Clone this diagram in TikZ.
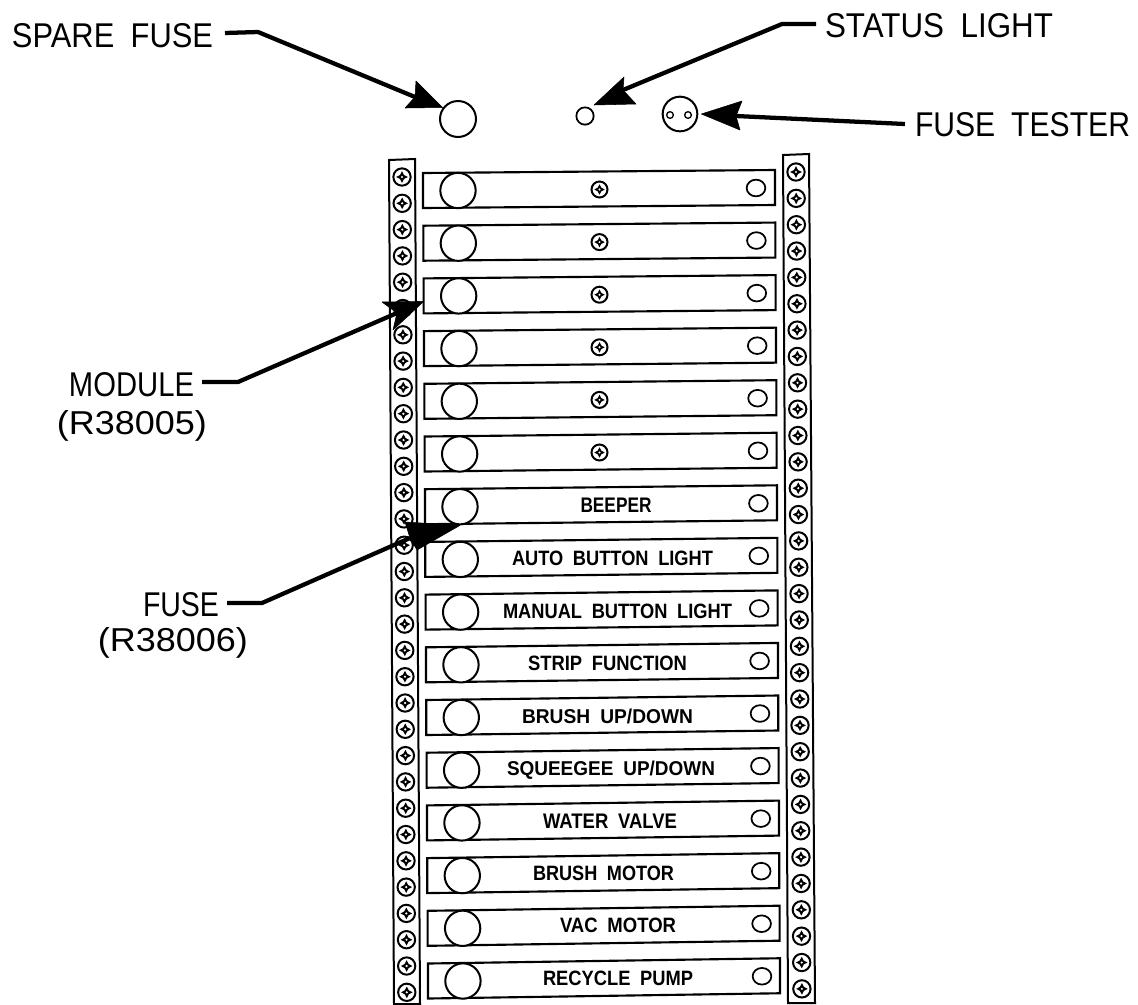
\documentclass[tikz,border=0pt]{standalone}
\usetikzlibrary{shapes.geometric}
\usepackage{graphicx}
\usepackage{fontspec}
\setmainfont[WordSpace=1.9]{Liberation Sans}
\newlength\pxu \setlength\pxu{0.75pt}
\newcommand\bigtxt[3]{\resizebox{#1\pxu}{#2\pxu}{\fontsize{30}{30}\selectfont #3}}
\newcommand\smalltxt[2]{\resizebox{#1\pxu}{14.5\pxu}{\fontsize{14}{14}\selectfont\bfseries #2}}
\tikzset{
  strip/.style={line width=1.5pt, draw=black, fill=white},
  modbox/.style={line width=1.6pt, draw=black, fill=white},
  fusec/.style={circle, draw=black, line width=1.5pt, fill=white, minimum size=26.5pt, inner sep=0pt},
  lampc/.style={ellipse, draw=black, line width=1.3pt, fill=white, minimum width=14pt, minimum height=12.5pt, inner sep=0pt},
  screwc/.style={circle, draw=black, line width=1.5pt, fill=white, minimum size=13pt, inner sep=0pt},
  lab/.style={anchor=base, inner sep=0pt, outer sep=0pt},
  leader/.style={line width=3.2pt, black, line join=round},
  head/.style={fill=black, draw=black, line width=.4pt, line join=round},
  pics/screwmark/.style={code={
    \fill[black] (0,-5.8)--(2,-2)--(5.8,0)--(2,2)--(0,5.8)--(-2,2)--(-5.8,0)--(-2,-2)--cycle;
    \fill[white] (0,0) circle (1.2);
  }}
}
\begin{document}
\begin{tikzpicture}[x=0.75pt,y=-0.75pt]
\useasboundingbox (0,0) rectangle (1138,1004);
\fill[white] (0,0) rectangle (1138,1004);
% strips
\draw[strip] (389,160) -- (415,159) -- (420,1004) -- (394,1004) -- cycle;
\draw[strip] (783,155) -- (809,154) -- (815,1003) -- (788,1003) -- cycle;
\foreach \i in {0,...,31}{
  \pgfmathsetmacro\ly{177+26.3*\i}
  \pgfmathsetmacro\lx{402+\i*0.155}
  \node[screwc] (ls\i) at (\lx,\ly) {};
  \pic at (ls\i) {screwmark};
  \pgfmathsetmacro\ry{172+26.35*\i}
  \pgfmathsetmacro\rx{796+\i*0.19}
  \node[screwc] (rs\i) at (\rx,\ry) {};
  \pic at (rs\i) {screwmark};
}
% modules
\foreach \i in {0,...,15}{
  \pgfmathsetmacro\xl{423+\i*0.33}
  \pgfmathsetmacro\xr{775+\i*0.33}
  \pgfmathsetmacro\yl{173+52.7*\i}
  \pgfmathsetmacro\yr{170+52.55*\i}
  \draw[modbox] (\xl,\yl) coordinate (mtl\i) -- (\xr,\yr) -- (\xr,\yr+35) -- (\xl,\yl+35) coordinate (mbl\i) -- cycle;
  \pgfmathsetmacro\fx{458+\i*0.33}
  \pgfmathsetmacro\fy{\yl+17.5}
  \node[fusec] (fuse\i) at (\fx,\fy) {};
  \pgfmathsetmacro\lx{756+\i*0.4}
  \pgfmathsetmacro\ly{\yr+18}
  \node[lampc] (lamp\i) at (\lx,\ly) {};
}
\foreach \i in {0,...,5}{
  \pgfmathsetmacro\sy{189.5+52.6*\i}
  \node[screwc, minimum size=12pt] (ms\i) at (599.5,\sy) {};
  \pic[scale=.9] at (ms\i) {screwmark};
}
% module labels
\node[lab] (tbeep) at (616,512) {\smalltxt{71}{BEEPER}};
\node[lab] (tauto) at (612.5,565) {\smalltxt{201}{AUTO BUTTON LIGHT}};
\node[lab] (tman) at (617.5,618) {\smalltxt{229}{MANUAL BUTTON LIGHT}};
\node[lab] (tstrip) at (607.5,670) {\smalltxt{159}{STRIP FUNCTION}};
\node[lab] (tbrush) at (607.5,723) {\smalltxt{171}{BRUSH UP/DOWN}};
\node[lab] (tsq) at (611,775) {\smalltxt{208}{SQUEEGEE UP/DOWN}};
\node[lab] (twat) at (610,828) {\smalltxt{134}{WATER VALVE}};
\node[lab] (tbm) at (603.5,880) {\smalltxt{141}{BRUSH MOTOR}};
\node[lab] (tvac) at (618,932) {\smalltxt{116}{VAC MOTOR}};
\node[lab] (trec) at (618,985) {\smalltxt{150}{RECYCLE PUMP}};
% top parts
\node[fusec, minimum size=27pt] (spare) at (458,119) {};
\node[circle, draw=black, line width=1.3pt, minimum size=13pt, inner sep=0pt] (status) at (585,116) {};
\node[circle, draw=black, line width=1.5pt, minimum size=26pt, inner sep=0pt] (tester) at (680,114) {};
\node[circle, draw=black, line width=1pt, minimum size=5pt, inner sep=0pt] (h1) at (670,115) {};
\node[circle, draw=black, line width=1pt, minimum size=5pt, inner sep=0pt] (h2) at (688,115) {};
% labels
\node[lab] (lspare) at (112.5,47) {\bigtxt{201}{24}{SPARE FUSE}};
\node[lab] (lstatus) at (939,37) {\bigtxt{228}{24}{STATUS LIGHT}};
\node[lab] (ltester) at (1022.5,136) {\bigtxt{215}{24}{FUSE TESTER}};
\node[lab] (lmod) at (131.5,396) {\bigtxt{125}{24}{MODULE}};
\node[lab] (lmodp) at (132,434) {\bigtxt{150}{24}{(R38005)}};
\node[lab] (lfuse) at (181,616) {\bigtxt{76}{24}{FUSE}};
\node[lab] (lfusep) at (173,651) {\bigtxt{150}{24}{(R38006)}};
% leaders
\coordinate (a1) at (225,33); \coordinate (k1) at (258,32); \coordinate (n1) at (415,97);
\draw[leader] (a1) -- (k1) -- (n1);
\fill[head] (spare.150) ++(1,-2) -- (416,81) -- (n1) -- (405,108) -- cycle;
\coordinate (a2) at (816,24); \coordinate (k2) at (782,24); \coordinate (n2) at (623,90);
\draw[leader] (a2) -- (k2) -- (n2);
\fill[head] (594,105) -- (624,77) -- (n2) -- (636,104) -- cycle;
\coordinate (a3) at (905,124); \coordinate (n3) at (736,116);
\draw[leader] (a3) -- (n3);
\fill[head] (tester.east) ++(3,0) -- (742,101) -- (n3) -- (740,130) -- cycle;
\coordinate (a4) at (202,382); \coordinate (k4) at (238,382); \coordinate (n4) at (397,313);
\draw[leader] (a4) -- (k4) -- (n4);
\fill[head] (mtl2) ++(0,23) -- (382,302) -- (n4) -- (393,330) -- cycle;
\coordinate (a5) at (227,603); \coordinate (k5) at (262,603); \coordinate (n5) at (410,538);
\draw[leader] (a5) -- (k5) -- (n5);
\fill[head] (fuse6.south) -- (405,522) -- (n5) -- (417,550) -- cycle;
\end{tikzpicture}
\end{document}
